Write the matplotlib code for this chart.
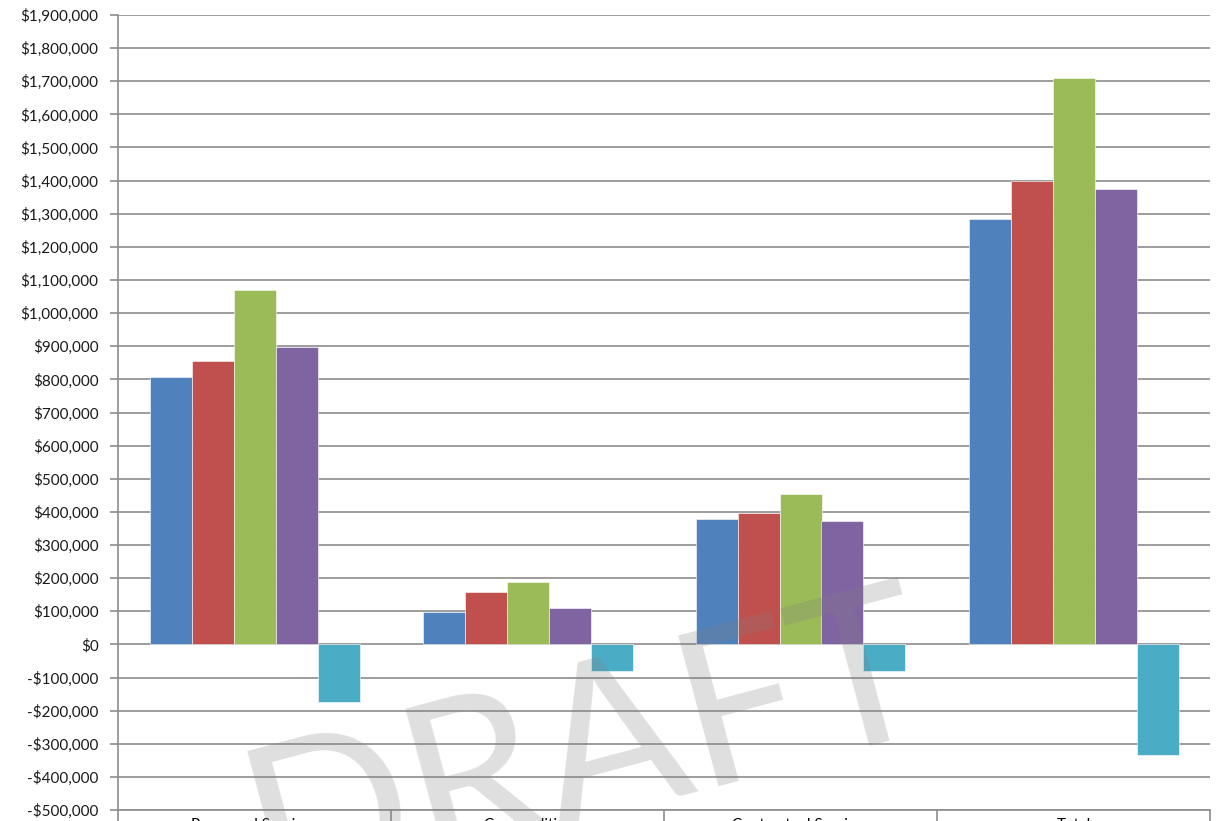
import matplotlib
matplotlib.use("Agg")
import matplotlib.pyplot as plt
import numpy as np
from matplotlib.ticker import FuncFormatter, MultipleLocator, FixedLocator

categories = ["Personnel Services", "Commodities", "Contractual Services", "Total"]
series_1 = [807000, 99000, 379000, 1284000]
series_2 = [855000, 157000, 397000, 1400000]
series_3 = [1070000, 188000, 453000, 1710000]
series_4 = [899000, 109000, 373000, 1374000]
series_5 = [-175000, -79000, -80000, -334000]
series = [series_1, series_2, series_3, series_4, series_5]
colors = ["#4F81BD", "#C0504D", "#9BBB59", "#8064A2", "#4BACC6"]

plt.rcParams['font.family'] = ['Lato', 'DejaVu Sans']

W, H = 1216, 821
fig = plt.figure(figsize=(W / 100, H / 100), dpi=100)
ax = fig.add_axes([118 / W, 1 - 810 / H, (1210 - 118) / W, (810 - 15) / H])

n = len(series)
x = np.arange(len(categories))
bw = 1.0 / (n + 1.5)
for i, (vals, c) in enumerate(zip(series, colors)):
    off = (i - (n - 1) / 2) * bw
    ax.bar(x + off, vals, width=bw, color=c, edgecolor="#ffffff", linewidth=0.4, zorder=3)

ax.set_xlim(-0.5, len(categories) - 0.5)
ax.set_ylim(-500000, 1900000)
ax.yaxis.set_major_locator(MultipleLocator(100000))


def fmt(v, pos):
    v = int(round(v))
    if v < 0:
        return "-${:,}".format(-v)
    return "${:,}".format(v)


ax.yaxis.set_major_formatter(FuncFormatter(fmt))
ax.grid(axis="y", color="#8c8c8c", linewidth=1.2, zorder=1)
ax.set_axisbelow(True)

ax.set_xticks(x)
ax.set_xticklabels(categories)
ax.xaxis.set_minor_locator(FixedLocator(np.arange(len(categories) + 1) - 0.5))
ax.tick_params(axis="x", which="major", length=0, pad=6, labelsize=11, colors="#000000")
ax.tick_params(axis="x", which="minor", length=12, width=1.2, color="#8c8c8c")
ax.tick_params(axis="y", which="major", length=6, width=1.2, color="#8c8c8c",
               labelsize=11, labelcolor="#1a1a1a", pad=8)

for s in ["top", "right"]:
    ax.spines[s].set_visible(False)
for s in ["left", "bottom"]:
    ax.spines[s].set_color("#8c8c8c")
    ax.spines[s].set_linewidth(1.2)

fig.text(588 / W, 1 - 752 / H, "DRAFT", fontsize=156, color="#808080", alpha=0.25,
         rotation=15, ha="center", va="center", family=["Lato", "DejaVu Sans"],
         fontweight="normal", zorder=10)

fig.savefig("out.png", dpi=100)
